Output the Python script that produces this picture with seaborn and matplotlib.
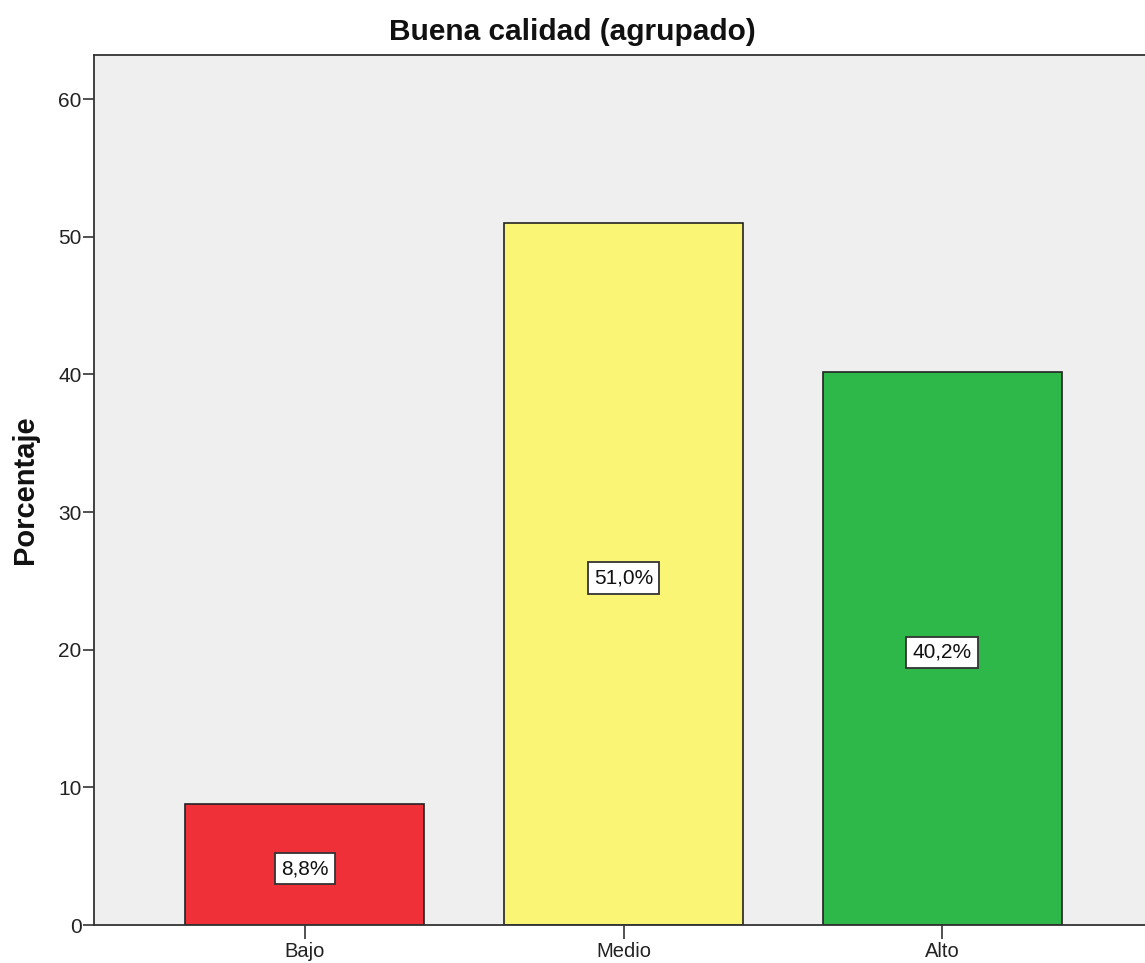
import matplotlib
matplotlib.use("Agg")
import matplotlib.pyplot as plt
import seaborn as sns
import pandas as pd

categories = ["Bajo", "Medio", "Alto"]
values = [8.8, 51.0, 40.2]
labels = ["8,8%", "51,0%", "40,2%"]
colors = ["#EF3039", "#FAF575", "#2FB84A"]
yticks = [0, 10, 20, 30, 40, 50, 60]

sns.set_theme(style="white")
plt.rcParams['font.family'] = ['Liberation Sans', 'DejaVu Sans']

df = pd.DataFrame({"cat": categories, "val": values})

fig = plt.figure(figsize=(11.45, 9.63), dpi=100)
W, H = 1145, 963
AW = 1153 - 94
ax = fig.add_axes([94 / W, (H - 925) / H, AW / W, (925 - 55) / H])
ax.set_facecolor("#EFEFEF")

sns.barplot(data=df, x="cat", y="val", hue="cat", palette=colors, order=categories,
            hue_order=categories, width=0.75, edgecolor="#222222", linewidth=1.2,
            legend=False, ax=ax, saturation=1)

for i, (v, lab) in enumerate(zip(values, labels)):
    ax.annotate(lab, xy=(i, v / 2), xytext=(0, -3), textcoords="offset points",
                ha="center", va="center", fontsize=15, color="#111111",
                bbox=dict(boxstyle="square,pad=0.3", facecolor="white", edgecolor="#333333", linewidth=1.3))

ax.set_xlim(-0.662, 2.662)
ax.set_ylim(0, 63.2)
ax.set_yticks(yticks)
ax.set_yticklabels([str(t) for t in yticks], fontsize=15, color="#222222")
ax.set_xticks(range(len(categories)))
ax.set_xticklabels(categories, fontsize=14.5, color="#222222")
ax.tick_params(axis="y", direction="out", length=8, width=1.2, color="#333333", pad=1, left=True)
ax.tick_params(axis="x", direction="out", length=10, width=1.2, color="#333333", pad=2, bottom=True)
for s in ax.spines.values():
    s.set_color("#333333")
    s.set_linewidth(1.3)
ax.set_xlabel("")
ax.set_ylabel("Porcentaje", fontsize=21, fontweight="bold", color="#111111")
ax.yaxis.label.set_va("center")
ax.yaxis.set_label_coords((25 - 94) / AW, 0.5)

fig.text(0.5, 1 - 32 / H, "Buena calidad (agrupado)", ha="center", va="center",
         fontsize=21.5, fontweight="bold", color="#111111")

fig.savefig("out.png", dpi=100)
